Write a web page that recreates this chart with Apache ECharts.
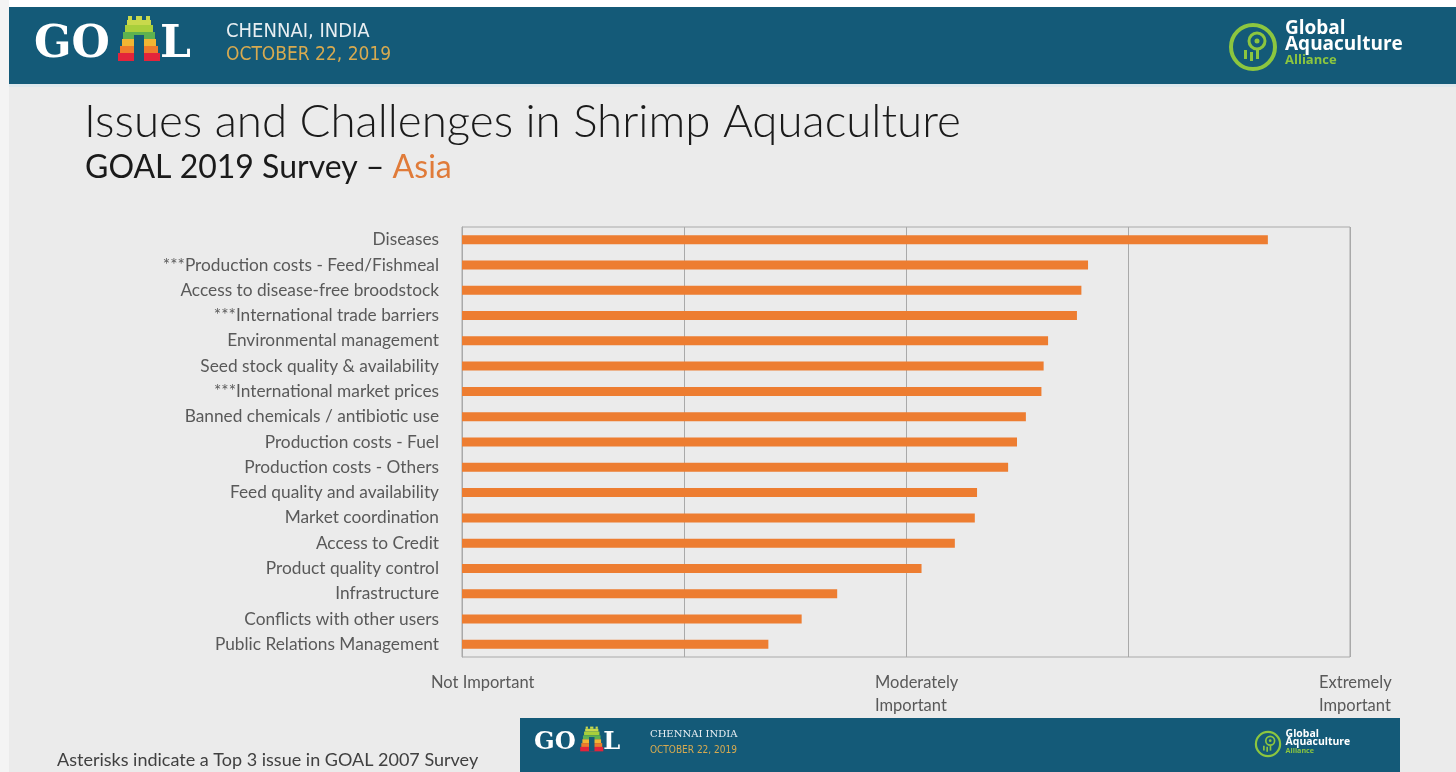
<!DOCTYPE html>
<html>
<head>
<meta charset="utf-8">
<script src="https://cdn.jsdelivr.net/npm/echarts@6/dist/echarts.min.js"></script>
<style>html,body{margin:0;padding:0;background:#ebebeb;}#c{width:1456px;height:772px;}</style>
</head>
<body>
<div id="c"></div>
<script>
const categories = [
  'Diseases',
  '***Production costs - Feed/Fishmeal',
  'Access to disease-free broodstock',
  '***International trade barriers',
  'Environmental management',
  'Seed stock quality & availability',
  '***International market prices',
  'Banned chemicals / antibiotic use',
  'Production costs - Fuel',
  'Production costs - Others',
  'Feed quality and availability',
  'Market coordination',
  'Access to Credit',
  'Product quality control',
  'Infrastructure',
  'Conflicts with other users',
  'Public Relations Management'
];
const importance = [4.63, 3.82, 3.79, 3.77, 3.64, 3.62, 3.61, 3.54, 3.50, 3.46, 3.32, 3.31, 3.22, 3.07, 2.69, 2.53, 2.38];
const tickLabels = {1: ['Not Important'], 3: ['Moderately', 'Important'], 5: ['Extremely', 'Important']};
const titleText = 'Issues and Challenges in Shrimp Aquaculture';
const subtitleText = 'GOAL 2019 Survey \u2013 ';
const subtitleRegion = 'Asia';
const footnote = 'Asterisks indicate a Top 3 issue in GOAL 2007 Survey';

const FONT = 'Lato, "Open Sans", sans-serif';
const BAND = '#145a78';
const chart = echarts.init(document.getElementById('c'), null, {renderer: 'canvas'});

function goalLogo(x, y, s) {
  // x = left of G, y = top of letters, s = scale
  const ox = x + 84*s, oy = y - 8*s;
  const r = (x0, y0, w, h, c) => ({type: 'rect', z: 10, shape: {x: ox + x0*s, y: oy + y0*s, width: w*s, height: h*s}, style: {fill: c}});
  return [
    {type: 'text', left: x, top: y, z: 10, style: {text: 'GO', fill: '#ffffff', font: 'bold ' + (44*s) + 'px "DejaVu Serif", serif'}},
    r(10, 0, 4, 4, '#c9d94c'), r(18, 0, 6, 4, '#c9d94c'), r(28, 0, 4, 4, '#c9d94c'),
    r(9, 4, 24, 5, '#c9d94c'),
    r(7, 9, 28, 7, '#a9cf3b'),
    r(5, 16, 32, 7, '#5fb24f'),
    r(4, 23, 34, 7, '#f3b533'),
    r(2, 30, 38, 7, '#f07b2b'),
    r(0, 37, 42, 8, '#e3243b'),
    r(16, 19, 10, 26, BAND),
    {type: 'text', left: x + 126*s, top: y, z: 10, style: {text: 'L', fill: '#ffffff', font: 'bold ' + (44*s) + 'px "DejaVu Serif", serif'}}
  ];
}
function gaaLogo(cx, cy, s) {
  return [
    {type: 'circle', z: 10, shape: {cx: cx, cy: cy, r: 22*s}, style: {fill: 'none', stroke: '#8cc63f', lineWidth: 4*s}},
    {type: 'circle', z: 10, shape: {cx: cx + 4*s, cy: cy - 6*s, r: 8*s}, style: {fill: 'none', stroke: '#8cc63f', lineWidth: 3*s}},
    {type: 'circle', z: 10, shape: {cx: cx + 4*s, cy: cy - 6*s, r: 2.5*s}, style: {fill: '#8cc63f'}},
    {type: 'rect', z: 10, shape: {x: cx - 9*s, y: cy + 3*s, width: 3*s, height: 9*s}, style: {fill: '#8cc63f'}},
    {type: 'rect', z: 10, shape: {x: cx - 3*s, y: cy + 5*s, width: 3*s, height: 9*s}, style: {fill: '#8cc63f'}},
    {type: 'rect', z: 10, shape: {x: cx + 3*s, y: cy + 3*s, width: 3*s, height: 9*s}, style: {fill: '#8cc63f'}},
    {type: 'text', z: 10, left: cx + 32*s, top: cy - 28*s, style: {text: 'Global', fill: '#ffffff', font: 'bold ' + (19*s) + 'px "Open Sans", sans-serif'}},
    {type: 'text', z: 10, left: cx + 32*s, top: cy - 12*s, style: {text: 'Aquaculture', fill: '#ffffff', font: 'bold ' + (19*s) + 'px "Open Sans", sans-serif'}},
    {type: 'text', z: 10, left: cx + 32*s, top: cy + 7*s, style: {text: 'Alliance', fill: '#8cc63f', font: 'bold ' + (13*s) + 'px "Open Sans", sans-serif'}}
  ];
}

const graphics = [
  {type: 'rect', z: 1, shape: {x: 0, y: 0, width: 1456, height: 7}, style: {fill: '#ffffff'}},
  {type: 'rect', z: 1, shape: {x: 0, y: 0, width: 9, height: 772}, style: {fill: '#f4f4f4'}},
  {type: 'rect', z: 2, shape: {x: 9, y: 7, width: 1447, height: 77}, style: {fill: BAND}},
  {type: 'rect', z: 2, shape: {x: 9, y: 84, width: 1447, height: 3}, style: {fill: '#dde7ec'}},
  {type: 'text', z: 10, left: 226, top: 22, style: {text: 'CHENNAI, INDIA', fill: '#e8eef2', font: '20px "DejaVu Sans Condensed", "Liberation Sans Narrow", sans-serif'}},
  {type: 'text', z: 10, left: 226, top: 46, style: {text: 'OCTOBER 22, 2019', fill: '#d7aa50', font: '19px "DejaVu Sans Condensed", "Liberation Sans Narrow", sans-serif'}},
  ...goalLogo(34, 24, 1),
  ...gaaLogo(1253, 47, 1),
  {type: 'text', z: 10, left: 84, top: 99, style: {text: titleText, fill: '#1a1a1a', font: '300 45.7px ' + FONT}},
  {type: 'text', z: 10, left: 85, top: 152, style: {
    text: '{a|' + subtitleText + '}{b|' + subtitleRegion + '}',
    rich: {a: {fill: '#1a1a1a', font: '32px ' + FONT}, b: {fill: '#e07b39', font: '32px ' + FONT}}}},
  {type: 'text', z: 10, left: 57, top: 751, style: {text: footnote, fill: '#404040', font: '18px ' + FONT}},
  {type: 'rect', z: 2, shape: {x: 520, y: 718, width: 880, height: 54}, style: {fill: BAND}},
  ...goalLogo(534, 731, 0.55),
  {type: 'text', z: 10, left: 650, top: 729, style: {text: 'CHENNAI INDIA', fill: '#e8eef2', font: '10px "DejaVu Serif", serif'}},
  {type: 'text', z: 10, left: 650, top: 745, style: {text: 'OCTOBER 22, 2019', fill: '#d7aa50', font: '10px "DejaVu Sans Condensed", sans-serif'}},
  ...gaaLogo(1268, 744, 0.55)
];

chart.setOption({
  backgroundColor: '#ebebeb',
  animation: false,
  graphic: graphics,
  grid: {left: 462, right: 106, top: 227, bottom: 115, show: true, borderColor: '#a9a9a9', borderWidth: 1, backgroundColor: 'transparent'},
  xAxis: {
    type: 'value', min: 1, max: 5, interval: 1,
    axisLine: {show: false}, axisTick: {show: false},
    splitLine: {show: true, lineStyle: {color: '#a9a9a9', width: 1}},
    axisLabel: {
      margin: 14, align: 'center', color: '#595959', fontFamily: FONT, fontSize: 16.5, lineHeight: 23,
      formatter: function (v) {
        const t = tickLabels[v];
        if (!t) return '';
        return t.map(function (s) { return '{a|' + s + '}'; }).join('\n');
      },
      rich: {a: {width: 62, align: 'left', color: '#595959', fontFamily: FONT, fontSize: 16.5, lineHeight: 23}}
    }
  },
  yAxis: {
    type: 'category', data: categories, inverse: true,
    axisLine: {show: true, lineStyle: {color: '#a9a9a9'}}, axisTick: {show: false},
    axisLabel: {margin: 23, color: '#595959', fontFamily: FONT, fontSize: 17.3}
  },
  series: [{
    type: 'bar', data: importance, barWidth: 9,
    itemStyle: {color: '#ed7d31'}
  }]
});
</script>
</body>
</html>
